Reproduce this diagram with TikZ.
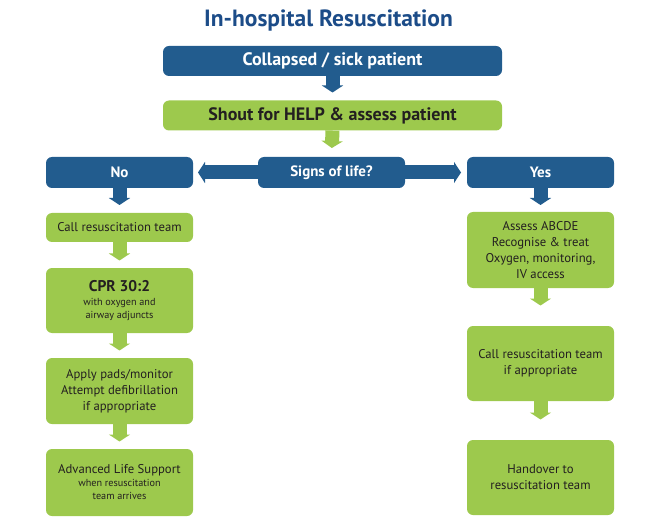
\documentclass[tikz,border=0pt]{standalone}
\usepackage{fontspec}
\setmainfont{PT Sans}
\usetikzlibrary{arrows.meta}

\definecolor{rcblue}{RGB}{34,92,142}
\definecolor{rctitle}{RGB}{28,76,136}
\definecolor{rcgreen}{RGB}{157,201,77}
\definecolor{rctext}{RGB}{35,31,32}

\begin{document}
\begin{tikzpicture}[x=1pt,y=-1pt,
  box/.style={rounded corners=6pt,outer sep=0pt,inner sep=0pt,align=center},
  bluebox/.style={box,fill=rcblue,text=white,font=\bfseries\fontsize{15}{17}\selectfont,
    minimum width=147pt,minimum height=31pt},
  topbox/.style={box,minimum width=339pt,minimum height=30pt,font=\bfseries\fontsize{18}{20}\selectfont},
  greenbox/.style={box,fill=rcgreen,text=rctext,font=\fontsize{12.7}{16}\selectfont,minimum width=147pt},
  blockarrow/.style={line width=14pt,-{Triangle[length=7pt,width=21pt]}},
  barrow/.style={blockarrow,draw=rcblue},
  garrow/.style={blockarrow,draw=rcgreen}]

  \useasboundingbox (0,0) rectangle (658,529);

  \node[anchor=base,text=rctitle,font=\bfseries\fontsize{23.5}{26}\selectfont] (title)
    at (328.5,27) {In-hospital Resuscitation};

  \node[topbox,fill=rcblue,text=white] (collapsed) at (332.5,61) {Collapsed / sick patient};
  \node[topbox,fill=rcgreen,text=rctext] (shout) at (332.5,115.5) {Shout for HELP \& assess patient};

  % decision row
  \node[bluebox] (no) at (119.5,172.5) {No};
  \node[bluebox] (signs) at (331.5,172.5) {Signs of life?};
  \node[bluebox] (yes) at (540.5,172.5) {Yes};

  % no signs of life
  \node[greenbox,minimum height=29pt] (call) at (119.5,227.5) {Call resuscitation team};
  \node[greenbox,minimum height=65pt] (cpr) at (119.5,300.5)
    {{\bfseries\fontsize{15.5}{17}\selectfont CPR 30:2}\\[-2pt]
     {\fontsize{10.2}{12}\selectfont with oxygen and}\\[-3pt]
     {\fontsize{10.2}{12}\selectfont airway adjuncts}};
  \node[greenbox,minimum height=66pt] (apply) at (119.5,391)
    {Apply pads/monitor\\Attempt defibrillation\\if appropriate};
  \node[greenbox,minimum height=67pt] (als) at (119.5,482.5)
    {Advanced Life Support\\[-3pt]
     {\fontsize{10.2}{12}\selectfont when resuscitation}\\[-3pt]
     {\fontsize{10.2}{12}\selectfont team arrives}};

  % signs of life
  \node[greenbox,minimum height=76pt] (assess) at (540.5,250)
    {Assess ABCDE\\Recognise \& treat\\Oxygen, monitoring,\\IV access};
  \node[greenbox,minimum height=75pt] (callif) at (540.5,363.5)
    {Call resuscitation team\\if appropriate};
  \node[greenbox,minimum height=75pt] (handover) at (540.5,477.5)
    {Handover to\\resuscitation team};

  \draw[barrow,shorten >=8pt] (collapsed.south) -- (shout.north);
  \draw[garrow,shorten >=9pt] (shout.south) -- (signs.north);
  \draw[barrow,shorten >=5pt] (signs.west) -- (no.east);
  \draw[barrow,shorten >=6pt] (signs.east) -- (yes.west);
  \draw[barrow,shorten >=8pt] (no.south) -- (call.north);
  \draw[barrow,shorten >=7pt] (yes.south) -- (assess.north);

  \foreach \a/\b in {call/cpr,cpr/apply,apply/als}
    \draw[garrow,shorten >=7.5pt] (\a.south) -- (\b.north);
  \foreach \a/\b in {assess/callif,callif/handover}
    \draw[garrow,shorten >=20.5pt] (\a.south) -- (\b.north);
\end{tikzpicture}
\end{document}
